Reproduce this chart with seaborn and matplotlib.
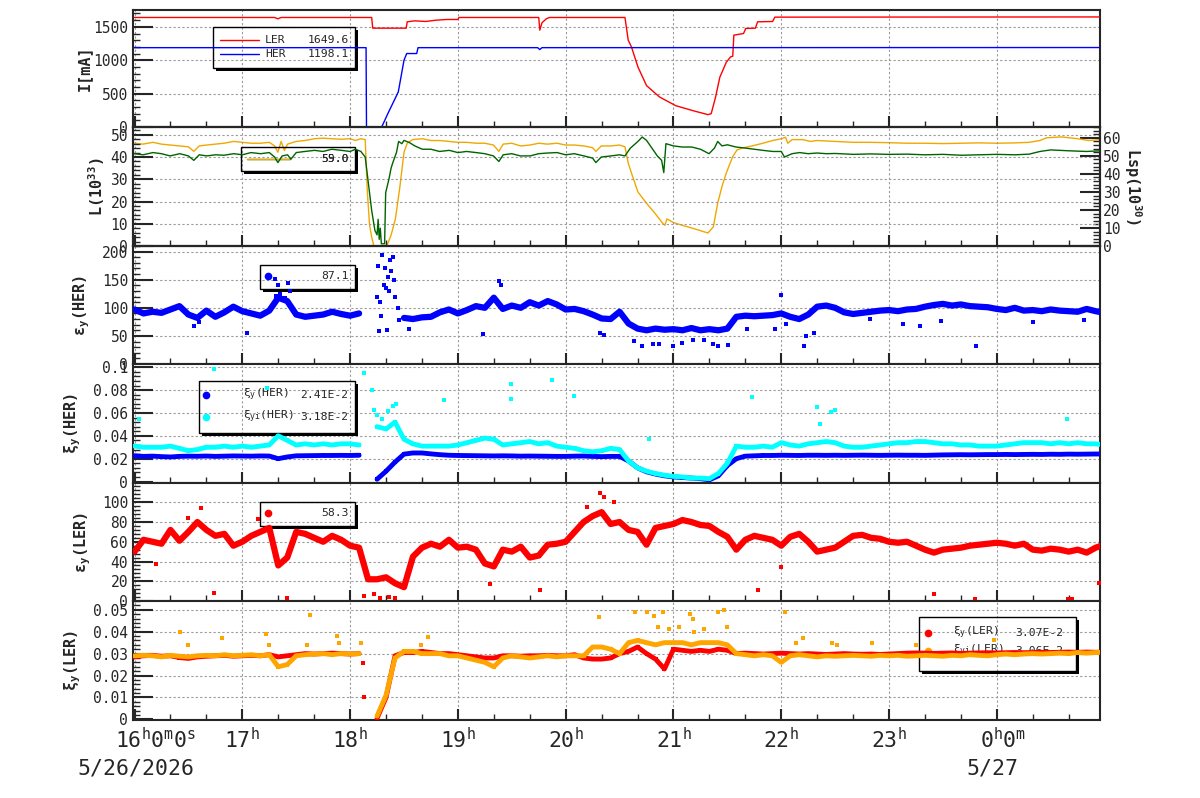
import numpy as np
import pandas as pd
import matplotlib
matplotlib.use("Agg")
import matplotlib.pyplot as plt
from matplotlib.patches import Rectangle
from matplotlib.ticker import MultipleLocator
from matplotlib.transforms import ScaledTranslation
import seaborn as sns

nan = np.nan

# sample times of the 5-minute readings, hours after 16:00 on 5/26
t5 = np.arange(109) * 5 / 60

# beam currents [mA]
ler_current_t = [0, 1.3, 1.33, 1.36, 2.2, 2.21, 2.52, 2.53, 2.6, 2.7, 2.8, 2.9, 3.0, 3.01,
                 3.75, 3.76, 3.78, 3.82, 3.85, 4.55, 4.58, 4.61, 4.67, 4.75, 4.87, 5.02,
                 5.18, 5.32, 5.35, 5.39, 5.43, 5.49, 5.53, 5.55, 5.56, 5.65, 5.67, 5.76,
                 5.78, 5.92, 5.94, 8.96]
ler_current = [1640, 1640, 1620, 1640, 1640, 1480, 1480, 1575, 1590, 1580, 1600, 1610, 1610, 1640,
               1640, 1450, 1560, 1620, 1640, 1640, 1300, 1200, 900, 620, 450, 320,
               245, 185, 200, 445, 745, 970, 1050, 1060, 1375, 1400, 1475, 1480,
               1575, 1580, 1645, 1648]
her_current_t = [0, 2.148, 2.152, 2.293, 2.35, 2.447, 2.5, 2.525, 2.618, 2.63, 3.74, 3.76, 3.78, 8.96]
her_current = [1188, 1188, 0, 0, 200, 525, 1000, 1100, 1100, 1188, 1188, 1160, 1188, 1190]

# luminosity L [1e33] and specific luminosity Lsp [1e30]
lum_t = [0, 0.08, 0.17, 0.25, 0.33, 0.42, 0.5, 0.55, 0.6, 0.67, 0.75, 0.83, 0.92, 1.0, 1.08,
         1.17, 1.25, 1.3, 1.33, 1.37, 1.42, 1.45, 1.5, 1.58, 1.67, 1.75, 1.83, 1.92, 2.0,
         2.05, 2.1, 2.14, 2.17, 2.2, 2.23, 2.25, 2.26, 2.27, 2.28, 2.29, 2.32, 2.33, 2.36,
         2.38, 2.4, 2.43, 2.45, 2.48, 2.5, 2.55, 2.6, 2.67, 2.75, 2.83, 2.92, 3.0, 3.08,
         3.17, 3.25, 3.33, 3.38, 3.42, 3.5, 3.58, 3.67, 3.75, 3.83, 3.92, 4.0, 4.08, 4.17,
         4.25, 4.28, 4.33, 4.42, 4.5, 4.55, 4.6, 4.67, 4.71, 4.75, 4.8, 4.85, 4.89, 4.91,
         4.93, 5.0, 5.08, 5.17, 5.25, 5.33, 5.38, 5.41, 5.45, 5.5, 5.58, 5.67, 5.75, 5.83,
         5.92, 6.0, 6.03, 6.1, 6.17, 6.25, 6.33, 6.42, 6.5, 6.67, 6.83, 7.0, 7.17, 7.33,
         7.5, 7.67, 7.83, 8.0, 8.17, 8.3, 8.4, 8.5, 8.67, 8.83, 8.96]
lum = [41.5, 41, 42, 41.5, 40.5, 41.5, 40.5, 38.5, 41, 40.5, 41, 40.8, 41.5, 41, 42,
       41.5, 42, 40, 37.5, 40.5, 41, 39, 42, 42.5, 43, 42.5, 43.5, 43, 42.5,
       43.5, 42.5, 40, 28, 16, 7, 5, 12, 3, 8, 1, 1, 24, 30,
       35, 38, 42, 47, 46, 47.5, 46.5, 45, 43.5, 43.5, 42.5, 43, 42, 42.5,
       42, 41.5, 40.5, 38, 41, 41.5, 40.5, 40.5, 41.5, 41.8, 42, 41, 41.5, 40.5,
       39.5, 37.5, 40, 40.5, 41, 40.5, 44, 47, 49, 47.5, 44, 40.5, 38.5, 33,
       46, 45, 44.5, 44.5, 43.5, 41.5, 44, 47, 45, 45.5, 44.5, 44, 43.5, 43,
       42.5, 42.5, 40, 41.5, 42, 41.5, 41.8, 41.5, 41.6, 41.2, 41.4, 41.2, 41.3, 41,
       41.2, 40.8, 41, 41.2, 41, 41.3, 42.5, 43.2, 42.8, 42.5, 42.8]
lsp_t = [0, 0.08, 0.17, 0.25, 0.33, 0.42, 0.5, 0.55, 0.6, 0.67, 0.75, 0.83, 0.92, 1.0, 1.08,
         1.17, 1.25, 1.3, 1.33, 1.36, 1.39, 1.42, 1.5, 1.58, 1.67, 1.75, 1.83, 1.92, 2.0,
         2.05, 2.1, 2.14, 2.16, 2.18, 2.2, 2.22, 2.34, 2.38, 2.42, 2.46, 2.5, 2.53, 2.58,
         2.67, 2.75, 2.83, 2.92, 3.0, 3.08, 3.17, 3.25, 3.33, 3.38, 3.42, 3.5, 3.58, 3.67,
         3.75, 3.83, 3.92, 4.0, 4.08, 4.17, 4.25, 4.28, 4.33, 4.42, 4.5, 4.55, 4.58, 4.61,
         4.67, 4.75, 4.83, 4.9, 4.92, 4.94, 5.0, 5.08, 5.18, 5.25, 5.32, 5.37, 5.41, 5.45,
         5.49, 5.55, 5.59, 5.65, 5.73, 5.83, 5.92, 5.96, 6.0, 6.04, 6.06, 6.1, 6.2, 6.27,
         6.33, 6.5, 6.67, 6.83, 7.0, 7.17, 7.33, 7.5, 7.67, 7.83, 8.0, 8.17, 8.3, 8.4,
         8.46, 8.6, 8.75, 8.85, 8.96]
lsp = [57, 56.5, 57.5, 56.5, 56, 55.5, 55, 52.5, 55.5, 56, 56.5, 57, 58, 57.5, 57,
       57, 57.5, 55.5, 52, 58, 53, 56.5, 58, 58.5, 59.5, 59.8, 59.5, 59.2, 59.5,
       58.5, 59.5, 59, 30, 12, 5, 0, 0, 6, 15, 32, 52, 57, 59,
       59.5, 58.5, 58.5, 58, 57.5, 57.5, 57, 57, 56, 52.5, 56.5, 57, 55.5, 56,
       57, 56.5, 57, 56, 56, 55.5, 54.5, 52.5, 55.5, 55.5, 56, 55, 46, 40.5,
       30, 23.7, 18, 12.6, 11.5, 15, 13, 11.5, 9.8, 8.5, 7.2, 10.6, 23.7, 33,
       40.5, 49.6, 53.3, 54.5, 55.5, 57, 58.5, 59, 59.5, 60.3, 57, 59, 59, 58,
       58.5, 58, 57.5, 57.5, 57.3, 57, 57, 56.8, 57, 57.2, 57, 57.2, 57.5, 58.5,
       60, 60.5, 59.5, 58.5, 59]

# vertical emittance HER (5-min readings) and stray readings
emit_her = [97, 90, 93, 91, 97, 103, 88, 82, 95, 84,
            92, 102, 94, 90, 86, 95, 118, 112, 88, 84,
            86, 88, 93, 89, 86, 90, nan, nan, nan, nan,
            82, 80, 83, 84, 92, 97, 90, 96, 103, 100,
            118, 98, 104, 100, 110, 104, 112, 106, 97, 98,
            94, 88, 81, 80, 93, 72, 63, 60, 63, 61,
            62, 60, 64, 60, 62, 60, 63, 84, 86, 85,
            86, 87, 90, 84, 80, 88, 102, 104, 100, 92,
            89, 91, 93, 95, 96, 94, 97, 98, 102, 105,
            107, 104, 106, 103, 102, 101, 98, 96, 100, 95,
            96, 94, 97, 95, 94, 93, 98, 94, 91]
emit_her_out_t = [0.55, 0.6, 1.04, 1.3, 1.31, 1.33, 1.35, 1.4, 1.42, 1.44,
                  2.25, 2.26, 2.27, 2.28, 2.29, 2.3, 2.31, 2.32, 2.33, 2.34,
                  2.35, 2.36, 2.37, 2.38, 2.4, 2.41, 2.42, 2.44, 2.45, 2.55,
                  3.23, 3.38, 3.4, 4.32, 4.36, 4.63, 4.71, 4.81, 4.87, 5.0,
                  5.08, 5.18, 5.28, 5.37, 5.41, 5.51, 5.68, 5.94, 6.0, 6.04,
                  6.21, 6.23, 6.3, 6.82, 7.13, 7.29, 7.48, 7.81, 8.34, 8.81]
emit_her_out = [67, 75, 56, 152, 121, 140, 125, 118, 145, 130,
                120, 175, 59, 110, 85, 194, 140, 170, 135, 60,
                155, 130, 185, 165, 190, 150, 120, 100, 78, 62,
                53, 148, 140, 55, 52, 41, 32, 35, 36, 32,
                38, 42, 42, 36, 32, 34, 62, 62, 123, 72,
                32, 50, 55, 80, 72, 67, 76, 32, 75, 78]

# beam-beam parameters HER
xi_her = [0.0225, 0.022, 0.0222, 0.0218, 0.0215, 0.022, 0.0222, 0.0221, 0.0223, 0.022,
          0.0222, 0.0224, 0.0223, 0.0222, 0.0224, 0.0223, 0.020, 0.0215, 0.0225, 0.0226,
          0.0227, 0.0228, 0.0228, 0.0229, 0.0228, 0.023, nan, 0.002, 0.009, 0.017,
          0.024, 0.025, 0.025, 0.0242, 0.0235, 0.023, 0.0228, 0.0227, 0.0226, 0.0225,
          0.0224, 0.0225, 0.0224, 0.0222, 0.0223, 0.0222, 0.0221, 0.022, 0.022, 0.0222,
          0.0223, 0.022, 0.0218, 0.022, 0.022, 0.018, 0.012, 0.0085, 0.0065, 0.005,
          0.004, 0.0035, 0.003, 0.0025, 0.0015, 0.005, 0.014, 0.020, 0.0222, 0.0225,
          0.0228, 0.0228, 0.023, 0.0229, 0.0228, 0.023, 0.023, 0.0229, 0.023, 0.0229,
          0.023, 0.0231, 0.023, 0.0229, 0.023, 0.0231, 0.023, 0.023, 0.0229, 0.0231,
          0.0233, 0.0234, 0.0235, 0.0234, 0.0235, 0.0236, 0.0236, 0.0237, 0.0236, 0.0237,
          0.0238, 0.0237, 0.0239, 0.0238, 0.024, 0.0239, 0.024, 0.0241, 0.0241]
xii_her = [0.031, 0.030, 0.030, 0.030, 0.031, 0.029, 0.027, 0.028, 0.030, 0.030,
           0.031, 0.030, 0.031, 0.030, 0.031, 0.032, 0.040, 0.036, 0.032, 0.033,
           0.032, 0.033, 0.032, 0.033, 0.033, 0.032, nan, 0.048, 0.046, 0.052,
           0.037, 0.033, 0.031, 0.031, 0.031, 0.031, 0.032, 0.034, 0.036, 0.038,
           0.037, 0.032, 0.033, 0.034, 0.035, 0.033, 0.034, 0.031, 0.030, 0.029,
           0.027, 0.026, 0.027, 0.029, 0.028, 0.018, 0.012, 0.009, 0.007, 0.0055,
           0.0045, 0.004, 0.003, 0.003, 0.0025, 0.007, 0.016, 0.031, 0.030, 0.030,
           0.031, 0.030, 0.034, 0.032, 0.031, 0.033, 0.034, 0.035, 0.034, 0.031,
           0.030, 0.030, 0.031, 0.032, 0.033, 0.034, 0.034, 0.035, 0.035, 0.034,
           0.033, 0.033, 0.032, 0.032, 0.031, 0.031, 0.031, 0.032, 0.033, 0.034,
           0.034, 0.034, 0.033, 0.034, 0.033, 0.034, 0.033, 0.033, 0.032]
xii_her_out_t = [0.04, 0.74, 1.23, 2.13, 2.2, 2.22, 2.25, 2.3, 2.35, 2.4, 2.43, 2.87,
                 3.49, 3.49, 3.87, 4.08, 4.77, 5.73, 6.33, 6.36, 6.46, 6.5, 8.65]
xii_her_out = [0.0545, 0.0985, 0.082, 0.095, 0.08, 0.063, 0.058, 0.055, 0.062, 0.066, 0.068, 0.071,
               0.085, 0.072, 0.089, 0.075, 0.037, 0.074, 0.065, 0.05, 0.061, 0.063, 0.055]

# vertical emittance LER
emit_ler = [50, 62, 60, 58, 72, 61, 70, 80, 72, 66,
            68, 56, 60, 66, 70, 74, 36, 44, 70, 68,
            64, 60, 66, 62, 56, 54, 22, 22, 24, 18,
            14, 45, 54, 58, 55, 62, 54, 55, 52, 38,
            35, 52, 50, 55, 44, 46, 57, 58, 60, 70,
            80, 86, 90, 78, 80, 72, 70, 57, 74, 76,
            78, 82, 80, 77, 76, 70, 65, 52, 62, 66,
            64, 62, 56, 65, 68, 60, 50, 52, 54, 60,
            66, 67, 64, 63, 60, 59, 60, 56, 52, 49,
            52, 53, 54, 56, 57, 58, 59, 58, 56, 58,
            52, 51, 53, 52, 50, 52, 49, 54, 57]
emit_ler_out_t = [0.2, 0.5, 0.62, 0.74, 1.15, 1.41, 2.13, 2.22, 2.28, 2.36, 2.42, 3.3,
                  3.76, 4.2, 4.32, 4.36, 4.45, 5.78, 6.0, 7.42, 7.8, 8.66, 8.7, 8.95]
emit_ler_out = [37, 84, 94, 8, 83, 3, 5, 7, 3, 4, 3, 17,
                11, 95, 109, 105, 100, 11, 34, 7, 2, 2, 2, 18]

# beam-beam parameters LER
xi_ler = [0.0285, 0.029, 0.0292, 0.0288, 0.029, 0.0282, 0.0278, 0.0285, 0.0288, 0.029,
          0.0292, 0.0288, 0.029, 0.0292, 0.029, 0.0295, 0.0285, 0.029, 0.0295, 0.030,
          0.0298, 0.030, 0.0302, 0.030, 0.0298, 0.030, nan, 0.0005, 0.010, 0.029,
          0.0305, 0.0305, 0.031, 0.0305, 0.030, 0.030, 0.0295, 0.029, 0.0285, 0.028,
          0.028, 0.029, 0.029, 0.0288, 0.029, 0.029, 0.0292, 0.029, 0.029, 0.0295,
          0.028, 0.0275, 0.0275, 0.028, 0.030, 0.031, 0.033, 0.030, 0.0275, 0.023,
          0.032, 0.0315, 0.031, 0.0315, 0.031, 0.032, 0.0315, 0.030, 0.0302, 0.030,
          0.0298, 0.030, 0.0302, 0.030, 0.0298, 0.030, 0.0298, 0.0296, 0.0298, 0.030,
          0.0298, 0.0297, 0.0298, 0.0296, 0.0298, 0.030, 0.0302, 0.0303, 0.0302, 0.0301,
          0.0302, 0.0303, 0.0301, 0.0302, 0.0303, 0.0304, 0.0303, 0.0304, 0.0305, 0.0304,
          0.0305, 0.0306, 0.0305, 0.0306, 0.0307, 0.0306, 0.0307, 0.0306, 0.0307]
xi_ler_out_t = [2.12, 2.13]
xi_ler_out = [0.0257, 0.0103]
xii_ler = [0.029, 0.0292, 0.029, 0.0285, 0.0292, 0.0288, 0.0285, 0.029, 0.0292, 0.029,
           0.0295, 0.029, 0.0292, 0.0295, 0.029, 0.0295, 0.024, 0.025, 0.029, 0.0295,
           0.0298, 0.030, 0.0295, 0.030, 0.0298, 0.030, nan, 0.0015, 0.011, 0.028,
           0.031, 0.031, 0.030, 0.030, 0.030, 0.029, 0.029, 0.028, 0.027, 0.026,
           0.024, 0.028, 0.029, 0.0285, 0.028, 0.0285, 0.029, 0.0285, 0.029, 0.029,
           0.029, 0.033, 0.033, 0.032, 0.030, 0.035, 0.036, 0.035, 0.034, 0.035,
           0.035, 0.035, 0.034, 0.035, 0.035, 0.035, 0.034, 0.030, 0.0295, 0.029,
           0.0295, 0.029, 0.026, 0.029, 0.0295, 0.029, 0.0285, 0.029, 0.0288, 0.029,
           0.0292, 0.029, 0.0288, 0.0292, 0.029, 0.0292, 0.0288, 0.029, 0.0292, 0.029,
           0.0288, 0.0292, 0.029, 0.0295, 0.0292, 0.029, 0.0295, 0.0298, 0.0295, 0.0298,
           0.030, 0.0298, 0.030, 0.0302, 0.030, 0.0305, 0.0302, 0.0305, 0.0306]
xii_ler_out_t = [0.42, 0.5, 0.81, 1.22, 1.25, 1.63, 1.6, 1.88, 1.9, 2.1,
                 2.72, 2.66, 4.31, 4.64, 4.75, 4.82, 4.86, 4.9, 4.96, 5.05,
                 5.15, 5.18, 5.19, 5.28, 5.41, 5.47, 5.5, 6.03, 6.2, 6.14,
                 6.47, 6.52, 6.84, 7.25, 7.97]
xii_ler_out = [0.040, 0.034, 0.037, 0.039, 0.034, 0.0475, 0.034, 0.038, 0.035, 0.035,
               0.0375, 0.034, 0.0465, 0.049, 0.049, 0.047, 0.042, 0.049, 0.041, 0.042,
               0.048, 0.046, 0.040, 0.041, 0.049, 0.050, 0.042, 0.049, 0.037, 0.035,
               0.035, 0.034, 0.035, 0.034, 0.036]

hour_ticks = [0, 1, 2, 3, 4, 5, 6, 7, 8]
hour_labels = [r"$16^{h}0^{m}0^{s}$", r"$17^{h}$", r"$18^{h}$", r"$19^{h}$", r"$20^{h}$",
               r"$21^{h}$", r"$22^{h}$", r"$23^{h}$", r"$0^{h}0^{m}$"]

sns.set_style("ticks")
plt.rcParams["font.family"] = ["DejaVu Sans Mono"]
plt.rcParams["mathtext.fontset"] = "custom"
plt.rcParams["mathtext.rm"] = "DejaVu Sans Mono"
plt.rcParams["mathtext.it"] = "DejaVu Sans Mono"
plt.rcParams["mathtext.bf"] = "DejaVu Sans Mono:bold"
plt.rcParams["axes.linewidth"] = 1.5

W, H = 1200, 798
fig = plt.figure(figsize=(12, 7.98), dpi=100)

def fx(x):
    return x / W

def fy(y):
    return 1 - y / H

tops = [10, 127, 246, 364, 483, 601]
bottoms = [127, 246, 364, 483, 601, 720]
axes = []
for top, bot in zip(tops, bottoms):
    ax = fig.add_axes([fx(132.7), fy(bot), (1100 - 132.7) / W, (bot - top) / H])
    axes.append(ax)

GRID = dict(linestyle=(0, (2, 2)), color="#9a9a9a", lw=0.8)


def style_axis(ax, yticks, ylabels, ylim, yminor, label, label_x):
    ax.set_xlim(-0.017, 8.957)
    ax.set_ylim(*ylim)
    ax.set_xticks(hour_ticks)
    ax.xaxis.set_minor_locator(MultipleLocator(1 / 3))
    ax.set_yticks(yticks, labels=ylabels)
    ax.yaxis.set_minor_locator(MultipleLocator(yminor))
    ax.tick_params(axis="x", which="major", direction="in", length=8, width=1.5,
                   bottom=True, top=False, labelbottom=False)
    ax.tick_params(axis="x", which="minor", direction="in", length=4.3, width=1.0,
                   bottom=True, top=False)
    ax.tick_params(axis="y", which="major", direction="in", length=14.4, width=1.5,
                   left=True, right=False, pad=3.4, labelsize=10.5)
    ax.tick_params(axis="y", which="minor", direction="in", length=5, width=1.0,
                   left=True, right=False)
    ax.grid(True, which="major", **GRID)
    ax.set_xlabel("")
    ax.set_ylabel(label, fontsize=11, fontweight="bold")
    ax.yaxis.set_label_coords((label_x - 132.7) / 967.3, 0.5)
    for s in ax.spines.values():
        s.set_linewidth(1.5)


def band(ax, t, v, color, lw, size):
    d = pd.DataFrame({"t": t, "v": v})
    d["seg"] = d["v"].isna().cumsum()
    d = d.dropna()
    sns.lineplot(data=d, x="t", y="v", units="seg", estimator=None, color=color,
                 lw=lw, ax=ax, zorder=3, legend=False)
    sns.scatterplot(data=d, x="t", y="v", color=color, marker="s", s=size,
                    linewidth=0, ax=ax, zorder=3, legend=False)


def spots(ax, t, v, color, size=9):
    sns.scatterplot(x=t, y=v, color=color, marker="s", s=size, linewidth=0,
                    ax=ax, zorder=3, legend=False)


def legend_box(ax, x0, y0, x1, y1):
    kw = dict(transform=fig.transFigure, clip_on=False, zorder=1)
    ax.add_patch(Rectangle((fx(x1), fy(y1 + 3)), 3 / W, (y1 - y0) / H,
                           facecolor="black", lw=0, **kw))
    ax.add_patch(Rectangle((fx(x0 + 3), fy(y1 + 3)), (x1 - x0) / W, 3 / H,
                           facecolor="black", lw=0, **kw))
    ax.add_patch(Rectangle((fx(x0), fy(y1)), (x1 - x0) / W, (y1 - y0) / H,
                           facecolor="none", edgecolor="black", lw=1.0, **kw))


def legend_text(ax, x, y, s, ha="left"):
    ax.text(fx(x), fy(y), s, transform=fig.transFigure, ha=ha, va="center",
            fontsize=8.2, zorder=1, clip_on=False)


def legend_line(ax, x0, x1, y, color):
    ax.plot([fx(x0), fx(x1)], [fy(y), fy(y)], color=color, lw=1.0,
            transform=fig.transFigure, clip_on=False, zorder=1)


def legend_dot(ax, x, y, color):
    ax.plot([fx(x)], [fy(y)], marker="o", ms=4.5, color=color, lw=0,
            transform=fig.transFigure, clip_on=False, zorder=1)


# ---- panel 1: currents
ax = axes[0]
sns.lineplot(x=ler_current_t, y=ler_current, color="red", lw=1.0, ax=ax, zorder=3,
             estimator=None, sort=False)
sns.lineplot(x=her_current_t, y=her_current, color="blue", lw=1.0, ax=ax, zorder=3,
             estimator=None, sort=False)
style_axis(ax, [0, 500, 1000, 1500], ["0", "500", "1000", "1500"], (0, 1752), 100,
           "I[mA]", 91.7)
legend_box(ax, 213, 27, 355, 68)
legend_line(ax, 220, 259, 39.7, "red")
legend_line(ax, 220, 259, 53.7, "blue")
legend_text(ax, 265, 39.7, "LER")
legend_text(ax, 349, 39.7, "1649.6", ha="right")
legend_text(ax, 265, 53.7, "HER")
legend_text(ax, 349, 53.7, "1198.1", ha="right")

# ---- panel 2: luminosity
ax = axes[1]
ax2 = ax.twinx()
ax.set_zorder(2)
ax2.set_zorder(1)
ax.patch.set_visible(False)
sns.lineplot(x=lsp_t, y=lsp, color="#f0a800", lw=1.0, ax=ax2, estimator=None, sort=False)
sns.lineplot(x=lum_t, y=lum, color="#006400", lw=1.0, ax=ax, zorder=3,
             estimator=None, sort=False)
style_axis(ax, [0, 10, 20, 30, 40, 50], ["0", "10", "20", "30", "40", "50"], (0, 53.5), 2,
           r"L(10$^{\mathbf{33}}$)", 106.7)
ax2.set_ylim(0, 66.0)
ax2.set_yticks([0, 10, 20, 30, 40, 50, 60], labels=["0", "10", "20", "30", "40", "50", "60"])
ax2.yaxis.set_minor_locator(MultipleLocator(2))
ax2.tick_params(axis="y", which="major", direction="in", length=14.4, width=1.5,
                right=True, left=False, pad=2.2, labelsize=10.5)
ax2.tick_params(axis="y", which="minor", direction="in", length=5, width=1.0,
                right=True, left=False)
ax2.set_ylabel("")
fig.text(fx(1122), fy(186), r"Lsp(10$^{\mathbf{30}}$)", rotation=-90, ha="left",
         va="center", fontsize=11, fontweight="bold")
legend_box(ax, 241, 147, 355, 171)
legend_line(ax, 247, 290, 158.5, "#006400")
legend_line(ax, 247, 290, 158.5, "#f0a800")
legend_text(ax, 349, 158.5, "55.0", ha="right")
legend_text(ax, 349, 158.5, "59.0", ha="right")

# ---- panel 3: HER emittance
ax = axes[2]
band(ax, t5, emit_her, "blue", 4.5, 9)
spots(ax, emit_her_out_t, emit_her_out, "blue")
style_axis(ax, [0, 50, 100, 150, 200], ["0", "50", "100", "150", "200"], (0, 210), 10,
           r"ε$_{\mathbf{y}}$(HER)", 91.7)
legend_box(ax, 260, 265, 355, 289)
legend_dot(ax, 268, 276, "blue")
legend_text(ax, 349, 276, "87.1", ha="right")

# ---- panel 4: HER beam-beam
ax = axes[3]
band(ax, t5, xi_her, "blue", 3.5, 8)
band(ax, t5, xii_her, "cyan", 3.5, 8)
spots(ax, xii_her_out_t, xii_her_out, "cyan")
style_axis(ax, [0, 0.02, 0.04, 0.06, 0.08, 0.1], ["0", "0.02", "0.04", "0.06", "0.08", "0.1"],
           (-0.0013, 0.1029), 0.004, r"ξ$_{\mathbf{y}}$(HER)", 82.7)
legend_box(ax, 199, 381, 355, 433)
legend_dot(ax, 206, 395, "blue")
legend_dot(ax, 206, 417, "cyan")
legend_text(ax, 243, 395, r"ξ$_{y}$(HER)")
legend_text(ax, 348, 395, "2.41E-2", ha="right")
legend_text(ax, 243, 417, r"ξ$_{yi}$(HER)")
legend_text(ax, 348, 417, "3.18E-2", ha="right")

# ---- panel 5: LER emittance
ax = axes[4]
band(ax, t5, emit_ler, "red", 4.5, 9)
spots(ax, emit_ler_out_t, emit_ler_out, "red")
style_axis(ax, [0, 20, 40, 60, 80, 100], ["0", "20", "40", "60", "80", "100"], (0, 119.5), 4,
           r"ε$_{\mathbf{y}}$(LER)", 93.3)
legend_box(ax, 260, 502, 355, 526)
legend_dot(ax, 268, 513, "red")
legend_text(ax, 349, 513, "58.3", ha="right")

# ---- panel 6: LER beam-beam
ax = axes[5]
band(ax, t5, xi_ler, "red", 3.5, 8)
spots(ax, xi_ler_out_t, xi_ler_out, "red")
band(ax, t5, xii_ler, "orange", 3.5, 8)
spots(ax, xii_ler_out_t, xii_ler_out, "orange")
style_axis(ax, [0, 0.01, 0.02, 0.03, 0.04, 0.05], ["0", "0.01", "0.02", "0.03", "0.04", "0.05"],
           (-0.0003, 0.054), 0.002, r"ξ$_{\mathbf{y}}$(LER)", 82.7)
legend_box(ax, 919, 617, 1076, 671)
legend_dot(ax, 928, 632.5, "red")
legend_dot(ax, 928, 651, "orange")
legend_text(ax, 953, 632.5, r"ξ$_{y}$(LER)")
legend_text(ax, 1063, 632.5, "3.07E-2", ha="right")
legend_text(ax, 953, 651, r"ξ$_{yi}$(LER)")
legend_text(ax, 1063, 651, "3.06E-2", ha="right")

# time axis labels on the bottom panel
ax.tick_params(axis="x", which="major", labelbottom=True, labelsize=15.5, pad=5)
ax.set_xticks(hour_ticks, labels=hour_labels)
labels = ax.get_xticklabels()
labels[0].set_transform(labels[0].get_transform()
                        + ScaledTranslation(0.215, 0, fig.dpi_scale_trans))
labels[-1].set_transform(labels[-1].get_transform()
                         + ScaledTranslation(0.066, 0, fig.dpi_scale_trans))
fig.text(fx(77), fy(768), "5/26/2026", ha="left", va="center", fontsize=15.5)
fig.text(fx(992), fy(768), "5/27", ha="center", va="center", fontsize=15.5)

fig.savefig("out.png", dpi=100)
